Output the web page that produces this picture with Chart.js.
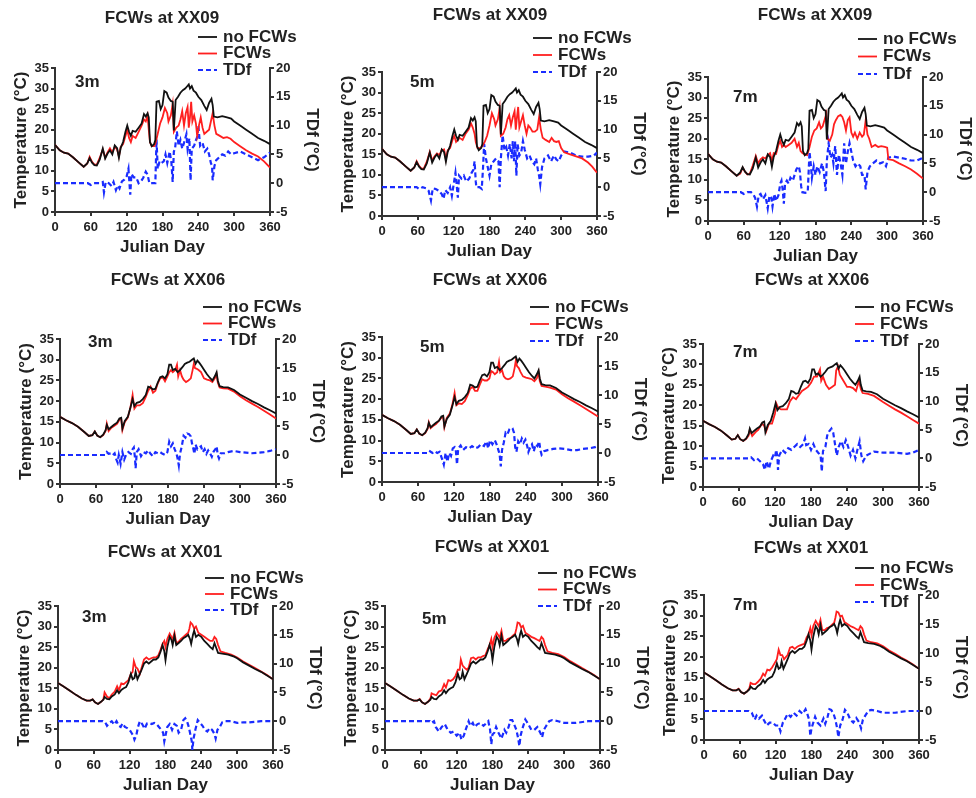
<!DOCTYPE html>
<html>
<head>
<meta charset="utf-8">
<script src="https://cdn.jsdelivr.net/npm/chart.js@4.4.1/dist/chart.umd.min.js"></script>
<style>
  html, body { margin: 0; padding: 0; background: #fff; overflow: hidden; }
  body { width: 976px; height: 798px; position: relative; }
  canvas { position: absolute; }
</style>
</head>
<body>
<script>
// Julian day / value pairs
const noFcwXX09 = [[0,16.3],[8,15],[15,14.4],[22,14.2],[30,13.3],[40,12],[48,11],[54,11.8],[58,13.1],[62,12],[66,11.4],[70,11.3],[75,12.8],[80,15.4],[84,13],[88,14.2],[92,15],[96,14],[100,16.2],[104,15.5],[107,13.2],[110,15.6],[114,17],[118,19.5],[121,21],[124,19.5],[127,18.5],[130,19.7],[135,19.5],[140,20.5],[145,21.5],[149,23.8],[152,23.2],[155,24],[157,23],[159,17],[162,16],[166,16.5],[168,17.5],[170,26.8],[174,27],[177,25],[180,26],[183,29.4],[187,29],[190,27.8],[194,27],[197,26.8],[199,19.8],[202,27.2],[206,28],[210,29],[214,29.6],[218,30],[221,30.5],[224,31],[226,30],[229,30.6],[232,29.5],[236,29],[240,28],[245,27.2],[250,25.8],[254,24.8],[258,26.5],[262,27.5],[264,26],[266,23.2],[272,23],[280,23.3],[288,23],[295,22.7],[300,22],[310,21],[320,20],[330,19],[340,18],[350,17.3],[360,16.5]];
const fcwXX09_3m = [[0,16.3],[8,15],[15,14.4],[22,14.2],[30,13.3],[40,12],[48,11],[54,11.8],[58,13.4],[62,12.2],[66,11.5],[70,11.5],[75,13.2],[80,15.2],[84,13.2],[88,14.5],[92,15.5],[96,14.5],[100,15.8],[104,15.2],[107,13.5],[110,15.8],[114,16.5],[118,18.5],[121,20],[124,18],[127,17],[130,18.5],[135,18],[140,19.5],[145,21],[149,22.5],[152,22],[155,23.5],[157,20],[159,17],[162,16],[166,16],[168,16.5],[172,19],[176,21.5],[180,23],[184,25.3],[188,24],[190,22],[194,23.5],[197,26.2],[199,19.5],[203,20.5],[207,21],[210,22.5],[213,24.5],[216,21],[219,24],[222,25.5],[224,20.5],[226,23],[228,26.8],[230,22],[233,23.5],[236,21.5],[238,18.5],[241,21],[244,23],[247,20.5],[250,19],[254,19.5],[258,20],[261,22],[264,24],[267,21],[270,19],[276,18.5],[282,18],[288,18.2],[294,17.8],[300,17],[310,16],[320,15],[330,14.2],[340,13.5],[350,12.3],[360,10.8]];
const tdfXX09_3m = [[0,0],[20,0],[40,0],[55,0],[60,-0.3],[65,0],[75,0],[80,0.2],[82,-1.6],[85,0.2],[90,0],[95,-0.5],[98,0.2],[102,-1.2],[105,-0.4],[108,-0.9],[112,0.3],[116,0.6],[120,1.2],[123,2.5],[125,-0.5],[126,-2],[128,1.6],[132,1],[136,1],[140,0],[144,0.3],[148,1],[152,2],[155,1.5],[158,0],[162,0],[166,0],[168,0],[170,7.6],[172,2.5],[175,3.8],[178,3.5],[182,3.8],[185,5],[188,3.5],[192,5.5],[195,3.5],[197,0.2],[199,5.5],[201,6],[204,9],[207,6.5],[210,7.5],[213,6],[216,7],[220,8.5],[222,6],[225,7.8],[227,0.5],[229,6],[233,6.5],[236,7.5],[238,8],[240,10],[243,6.5],[247,7],[251,5.5],[255,6],[258,5],[261,3.5],[263,3],[264,0.5],[267,3],[270,4],[275,4.5],[280,5],[285,4.8],[290,5.5],[295,5],[300,5.2],[310,5.5],[320,5],[330,4.5],[340,4],[350,4.5],[360,5.3]];
const fcwXX09_5m = [[0,16.3],[8,15],[15,14.4],[22,14.2],[30,13.3],[40,12],[48,11],[54,11.8],[58,13.3],[62,12.2],[66,11.5],[70,11.5],[75,13.2],[80,15.6],[84,13.5],[88,14.5],[92,15.2],[96,14.8],[100,16],[104,16.2],[107,13.8],[110,16],[114,16.5],[118,18.5],[121,19.5],[124,18],[127,18.5],[130,19],[135,18.5],[140,20],[145,21],[149,22.5],[152,21.5],[155,20],[157,18],[160,16.5],[164,16.5],[168,17],[172,18],[176,19.5],[180,22],[184,25],[188,23.5],[190,22],[194,23.5],[197,26.2],[199,19.5],[203,20],[207,21.5],[210,23.5],[213,24.5],[216,22],[219,24],[222,25.5],[224,21],[226,24],[228,26.5],[230,21.5],[233,23],[236,24.5],[239,22],[242,20],[245,22],[248,21.5],[252,20.5],[256,20.5],[260,21],[263,24],[266,21],[269,19],[274,18.5],[280,18],[284,19],[288,18.2],[292,18],[296,18.2],[300,16.5],[305,15.5],[315,15],[325,14.5],[335,14],[345,13],[352,12],[360,10.5]];
const tdfXX09_5m = [[0,0],[20,0],[40,0],[58,0],[62,-0.3],[68,0],[74,-0.2],[78,-0.6],[82,-2.3],[85,-0.2],[90,-0.3],[95,-0.6],[100,-1.2],[103,-2],[106,-0.5],[110,-1],[114,0],[117,-1.5],[120,0.5],[123,2.5],[125,0.5],[127,-1.8],[129,2],[133,1.5],[137,2],[141,1],[146,1.5],[150,2.5],[153,3],[155,4.5],[157,1],[158,0],[163,0],[167,-0.3],[169,3],[171,7.5],[174,5],[177,3.5],[180,2],[183,4],[187,4.5],[191,5],[195,4.5],[197,0],[199,5],[202,9],[205,6.5],[208,7],[211,5.5],[214,7.5],[217,5],[219,8],[221,4.5],[223,8],[225,2],[227,7.5],[230,5.5],[233,6],[236,8],[239,6.5],[243,5],[247,5.5],[251,4.5],[255,4],[258,5],[261,3],[263,2],[265,0.5],[268,3.5],[272,5],[278,5.5],[283,4.5],[288,5.5],[292,4.8],[296,4.5],[300,5.5],[305,6.2],[315,6],[325,5.5],[335,5.3],[345,5.3],[355,5.5],[360,6]];
const fcwXX09_7m = [[0,16.3],[8,15],[15,14.4],[22,14.2],[30,13.3],[40,12],[48,11],[54,11.5],[58,13],[62,12],[66,11.3],[70,11.5],[75,13.5],[80,15.8],[84,14],[88,15],[92,15.5],[96,15.2],[100,16],[104,16.5],[107,14.5],[110,16.5],[114,16.3],[118,18.5],[121,19.5],[124,18],[127,18.5],[130,18],[135,18.5],[140,19],[145,20],[149,18],[152,19],[155,17],[158,16.5],[162,16.2],[166,16],[170,18],[174,20.5],[178,22],[182,22.5],[186,24],[189,22.5],[192,23],[195,24.5],[198,26],[200,20],[204,19.5],[208,21],[211,23.5],[214,24.5],[218,25.5],[222,25.8],[225,25.3],[228,24],[231,22],[234,24.5],[237,25.2],[240,21.5],[243,20.5],[246,21.5],[250,20],[254,21.5],[258,20.5],[261,21],[264,24.5],[267,21],[270,20],[274,18],[280,18.5],[285,18],[290,18.2],[296,18],[300,17.8],[302,15],[310,14.8],[320,14],[330,13.3],[340,12.5],[350,11.5],[360,10.3]];
const tdfXX09_7m = [[0,0],[20,0],[40,0],[55,0],[60,-0.3],[66,0],[72,0],[76,-0.4],[79,-1],[82,-2.5],[85,-0.5],[88,-0.3],[92,-1.2],[96,-0.5],[100,-2.8],[103,-0.6],[106,-1],[108,-2.5],[111,-0.3],[114,-1.5],[118,-0.5],[121,1.5],[123,2],[125,0.5],[127,-2],[129,1.5],[132,2],[135,1.5],[138,2.5],[142,2],[145,3],[148,4],[152,4.5],[154,3.5],[156,1],[158,0],[163,-0.1],[167,0],[170,7],[172,5],[174,2.5],[177,4.5],[180,3],[183,4.5],[187,3.5],[191,5],[194,3.5],[197,0.2],[199,5.5],[202,8.5],[205,6],[208,6.5],[210,5],[213,8],[216,3],[219,6.5],[222,5],[225,3],[228,8.5],[231,5],[234,7],[237,8.5],[240,7],[243,5.5],[247,4.5],[251,5],[255,4.5],[258,3],[262,3],[264,0.5],[267,3.5],[271,4.5],[276,5],[282,5.5],[288,5],[293,5.2],[298,4.5],[302,6],[310,6.2],[320,6],[330,5.8],[340,5.5],[350,5.5],[360,6]];

const noFcwXX06 = [[0,16.2],[10,15.4],[20,14.7],[30,13.8],[40,12.6],[48,11.6],[54,11.8],[58,12.7],[62,11.7],[67,11.3],[72,11.9],[76,13],[78,14.3],[81,13.2],[85,13.7],[90,14.3],[95,14.8],[99,15.8],[102,16],[104,13.4],[108,15.2],[113,16.2],[117,18.2],[121,20.5],[124,18.8],[128,19.6],[133,19.8],[138,20.5],[143,21.5],[147,23.5],[151,23.3],[155,22.8],[159,23],[163,24.5],[167,25.8],[171,26],[175,25.5],[179,26.5],[182,28.8],[185,28.8],[188,27.5],[192,27.8],[196,27],[200,27.5],[204,28.2],[208,29],[212,29.3],[216,29.5],[220,30],[223,30.3],[226,29],[229,29.8],[232,29.3],[236,28.5],[240,27.6],[245,26.5],[250,25.6],[254,25],[258,26],[261,27],[263,25],[266,23.6],[272,23.4],[280,23.3],[290,22.7],[300,21.6],[310,20.8],[320,20],[330,19.3],[340,18.5],[350,17.8],[360,17]];
const fcwXX06_3m = [[0,16.2],[10,15.4],[20,14.7],[30,13.8],[40,12.6],[48,11.6],[54,11.8],[58,12.7],[62,11.7],[67,11.3],[72,11.8],[76,12.8],[78,14.6],[81,12.8],[85,13.5],[90,14],[95,14.5],[99,15.5],[102,15.7],[104,13],[108,15],[113,16],[117,18.2],[121,21.5],[124,18.2],[128,19],[133,19],[138,19.5],[143,21],[147,22.5],[151,23.5],[155,22],[159,22.5],[163,24.3],[167,25.5],[171,25.8],[175,24.8],[179,26],[182,27],[185,27.5],[188,27],[192,27.5],[195,28.8],[197,26],[200,27.5],[203,26],[206,25.2],[210,24.6],[214,25],[218,25.5],[221,27.5],[223,29],[225,28],[228,27.8],[231,27.5],[235,27],[240,25.5],[245,25.2],[250,25],[254,24.6],[258,25.5],[261,26.5],[263,24.5],[266,23.3],[272,23.1],[280,23],[290,22.3],[300,21.2],[310,20.2],[320,19.4],[330,18.6],[340,17.7],[350,16.8],[360,15.8]];
const tdfXX06_3m = [[0,0],[20,0],[40,0],[60,0],[75,0],[78,0.5],[81,0.2],[85,0.3],[88,0],[91,0.3],[94,-0.8],[96,-1.3],[98,0],[101,-1.5],[104,0.5],[107,-0.8],[110,0],[114,0.5],[118,0.2],[121,1],[123,1.3],[125,-0.5],[126,-2.3],[128,0.5],[131,1],[135,-0.2],[139,0.5],[143,0.3],[147,0.8],[151,0.2],[155,-0.2],[159,0.5],[163,0.3],[167,0.5],[171,0.2],[175,0],[179,0.5],[182,2.3],[185,1.5],[188,2],[191,1],[194,0.3],[196,-0.6],[198,-1.8],[200,0.2],[203,1.5],[206,3.3],[209,3],[212,3.7],[215,3.6],[218,3.2],[220,2],[222,1.2],[224,0.2],[226,1.8],[229,1],[232,1.3],[235,1.5],[238,0.5],[241,1],[244,0.2],[247,0.8],[250,0.3],[253,-0.3],[256,0.6],[259,1],[261,1.5],[263,0],[265,-0.6],[268,0.3],[274,0.3],[280,0.5],[290,0.7],[300,0.5],[310,0.4],[320,0.3],[330,0.4],[340,0.5],[350,0.7],[360,1]];
const fcwXX06_5m = [[0,16.2],[10,15.4],[20,14.7],[30,13.8],[40,12.6],[48,11.6],[54,11.8],[58,12.7],[62,11.7],[67,11.3],[72,11.8],[76,12.8],[78,14.4],[81,13],[85,13.5],[90,14],[95,14.8],[99,15.5],[102,15.8],[104,13.2],[108,15.5],[113,16.5],[117,18.5],[121,21.5],[124,18.5],[128,19],[133,18.8],[138,19.5],[143,21],[147,22.5],[151,23],[155,22],[159,22],[163,23.5],[167,24.8],[171,24.5],[175,24.5],[179,25],[182,26.8],[185,26.5],[188,26],[192,26.5],[195,29],[197,26.5],[200,27],[203,25.5],[206,25],[210,24.8],[214,25],[218,25.5],[221,27.5],[223,29.3],[225,28],[228,27.5],[231,26.5],[235,25.5],[240,25.2],[245,25],[250,24.8],[254,24.3],[258,25],[261,26.5],[263,24.3],[266,23.2],[272,23],[280,22.8],[290,22.3],[300,21.2],[310,20.2],[320,19.4],[330,18.5],[340,17.6],[350,16.7],[360,15.8]];
const tdfXX06_5m = [[0,0],[20,0],[40,0],[60,0],[78,0],[80,0.3],[84,0],[88,0.3],[92,0],[96,0.2],[100,-1],[103,-2],[106,0],[109,-1.5],[112,0],[115,-0.5],[118,0.8],[121,1],[123,0.5],[125,-2],[127,0.8],[131,1.3],[135,0.5],[140,1],[145,0.8],[150,1.2],[155,0.8],[160,1],[165,1.5],[170,1.2],[174,2],[177,0.8],[180,2.2],[184,1.5],[188,2.2],[191,1.5],[194,0.5],[196,-0.2],[198,-2.3],[200,0.5],[203,1.8],[206,3.5],[209,3.2],[212,4],[215,3.8],[218,4.1],[220,3.5],[222,1],[224,0.2],[227,2],[230,1.5],[233,2.5],[236,1.8],[239,2.3],[242,1.2],[244,0.2],[247,1],[250,1.5],[253,0.3],[256,1.5],[259,1.2],[262,2],[264,0.5],[266,-0.3],[270,0.3],[276,0.5],[285,0.7],[295,0.8],[305,0.7],[315,0.5],[325,0.5],[335,0.7],[345,0.8],[355,1],[360,1.2]];
const fcwXX06_7m = [[0,16.2],[10,15.4],[20,14.7],[30,13.8],[40,12.6],[48,11.6],[54,11.8],[58,12.7],[62,11.7],[67,11.3],[72,11.8],[76,12.6],[78,14],[82,12.5],[88,13.5],[92,14],[98,15.5],[102,15],[105,13.5],[110,15.5],[115,15.5],[120,18],[122,20.5],[125,19.5],[130,19],[135,19],[140,19],[145,21],[150,22],[155,21.5],[160,22.5],[165,23.5],[170,24],[175,24.5],[180,25.5],[185,27],[190,27],[195,28.8],[197,26],[200,27],[205,25],[210,24],[215,24.5],[220,25],[222,28.5],[225,29.5],[228,27.5],[232,26.5],[236,25.5],[240,24.5],[245,24.5],[250,24.2],[255,23.5],[260,26],[263,24],[266,23],[275,22.8],[285,22.3],[300,20.8],[310,19.9],[320,19],[330,18.2],[340,17.3],[350,16.4],[360,15.5]];
const tdfXX06_7m = [[0,0],[20,0],[40,0],[60,0],[75,0],[80,0.2],[85,-0.3],[90,0],[95,-0.5],[100,-1],[103,-2],[106,-0.5],[110,-1.8],[113,-0.5],[117,0.5],[120,0.2],[122,1.5],[124,0.3],[125,-2],[127,0.5],[132,1.5],[137,1],[142,1.8],[147,1.5],[152,2],[157,2.5],[162,2],[167,2.5],[170,3.5],[172,2.3],[176,2.5],[180,1.5],[184,2.5],[188,1.5],[192,1],[196,0.5],[198,-2.3],[200,1.3],[204,2],[207,4],[210,4.7],[214,5.2],[217,4.5],[220,2.5],[223,0.5],[226,2],[230,3],[234,2],[238,3.2],[242,2],[246,0.5],[250,1.5],[254,0],[258,1.8],[261,3],[264,0.5],[267,-0.5],[272,0.5],[285,1.2],[300,1],[320,1],[340,0.8],[350,1],[360,1.5]];

const noFcwXX01 = [[0,16.3],[10,15.4],[20,14.4],[30,13.4],[40,12.5],[48,12],[54,12],[58,12.3],[62,11.6],[67,11.2],[72,11.7],[76,12.2],[78,12.9],[82,12.4],[86,12.3],[90,13],[95,13.5],[99,14.5],[102,13.8],[106,14.6],[110,15],[114,15.3],[118,16.5],[122,18.5],[125,17.2],[128,17.5],[130,19],[133,17.2],[137,18.5],[140,19.5],[144,21],[148,21.5],[152,21],[156,21.5],[160,22],[164,22],[168,22.5],[172,24],[175,25.5],[178,24],[180,21.8],[183,25],[187,27.5],[190,26.8],[192,25.5],[195,27.8],[198,25.5],[202,26],[206,26.5],[210,27.2],[214,27.5],[218,28],[221,27],[223,25.8],[226,28],[228,29],[231,27.5],[235,28],[240,27.5],[245,26.5],[250,25.8],[255,25],[259,24.5],[262,26],[265,24.8],[268,23.6],[275,23.4],[285,23.2],[295,22.7],[300,22.3],[310,21.3],[320,20.5],[330,19.7],[340,19],[350,18.1],[360,17.2]];
const fcwXX01_3m = [[0,16.3],[10,15.4],[20,14.4],[30,13.4],[40,12.5],[48,12],[54,12],[58,12.3],[62,11.6],[67,11.2],[72,11.7],[76,12.3],[78,14],[82,13],[86,12.6],[90,13.5],[95,14.2],[99,15.5],[102,14.5],[106,16.2],[110,16],[114,16.5],[118,17],[122,18.5],[125,19],[127,21.6],[130,20.2],[133,19.8],[137,18.5],[140,20],[144,22],[148,22.5],[152,22],[156,22.3],[160,22.5],[164,22.5],[168,23],[172,24.5],[175,25.8],[178,26.5],[180,25],[183,27],[187,28.3],[190,27.5],[192,27],[195,28.5],[198,26],[202,26.3],[206,27],[210,27.5],[214,28],[218,28.5],[220,29.5],[222,31],[225,30.5],[228,29.5],[231,30],[235,28.5],[240,28],[245,27.5],[250,27],[255,26.5],[259,26.5],[262,27.5],[265,27],[268,25.5],[272,24],[280,23.6],[290,23.2],[300,22.5],[310,21.5],[320,20.7],[330,19.9],[340,19.1],[350,18.2],[360,17.2]];
const tdfXX01_3m = [[0,0],[20,0],[40,0],[60,0],[75,0],[79,-0.2],[82,-0.8],[86,-0.3],[90,0],[94,-0.6],[98,0],[102,-0.8],[105,-1],[108,-0.4],[112,-1],[116,-1.2],[120,-1.5],[123,-2],[126,-2.5],[128,-3.2],[131,-2.5],[134,-1],[137,0],[141,-0.5],[145,-1.3],[149,-0.4],[153,-0.3],[157,-0.5],[161,-0.3],[165,-0.5],[169,-1],[173,-1.5],[176,-2],[178,-3.5],[180,-2.5],[183,-1],[187,-0.5],[191,-1.5],[195,-0.5],[199,-0.8],[202,-2],[206,-1.5],[210,0.2],[213,0.5],[216,0],[219,-1],[222,-2.5],[224,-3.5],[225,-5],[227,-3],[230,-1.5],[234,0.2],[238,-0.3],[242,-0.8],[246,-1.5],[250,-1.8],[254,-1.2],[258,-1.5],[262,-2.2],[264,-3],[267,-1.5],[271,-1],[275,-0.2],[280,0],[290,0],[300,-0.3],[310,-0.2],[320,-0.2],[330,-0.1],[340,0],[350,0],[360,0]];
const fcwXX01_5m = [[0,16.3],[10,15.4],[20,14.4],[30,13.4],[40,12.5],[48,12],[54,12],[58,12.4],[62,11.6],[67,11.2],[72,11.7],[76,12.5],[78,13.8],[82,13.5],[86,13.3],[90,14.2],[95,14.5],[99,16],[102,15.2],[106,17],[110,16.8],[114,17.2],[118,18],[122,19.5],[125,19.5],[127,22],[130,20.5],[133,20],[137,19.5],[140,20],[144,22.3],[148,22.5],[152,22],[156,22.5],[160,22.5],[164,22.8],[168,23],[172,24.5],[175,25.5],[178,27],[180,25],[183,27.2],[187,28.5],[190,27.8],[192,27.3],[195,29],[198,26.5],[202,26.5],[206,27],[210,27.2],[214,27.8],[218,28.3],[220,29.5],[222,31],[225,30.8],[228,29.8],[231,30.2],[235,28.5],[240,28],[245,27.5],[250,27.2],[255,26.8],[259,26.5],[262,27.5],[265,27],[268,25.5],[272,24],[280,23.6],[290,23.3],[300,22.6],[310,21.6],[320,20.8],[330,19.9],[340,19.1],[350,18.2],[360,17.2]];
const tdfXX01_5m = [[0,0],[20,0],[40,0],[60,0],[75,0],[78,-0.3],[82,0],[85,-1],[90,-1.8],[95,-1],[100,-0.5],[105,-1.5],[110,-2],[115,-1.8],[120,-2.5],[125,-2],[128,-3.2],[132,-2.5],[135,-1.5],[140,0],[143,-0.8],[147,-0.3],[150,-1],[155,-0.5],[160,-0.3],[165,-0.8],[170,-0.3],[173,0],[176,-1.5],[178,-4],[180,-2.3],[183,-2],[186,-1],[190,-2],[195,-3],[200,-1.5],[203,-2],[207,-1],[210,0.2],[213,0.2],[216,-0.5],[220,-1.5],[223,-3],[225,-4.3],[227,-2.5],[230,-1.3],[235,0.3],[240,-0.5],[245,-1.5],[250,-1.5],[255,-1],[260,-2],[263,-2.8],[266,-1.5],[270,-0.8],[275,0],[280,0.2],[290,0],[300,-0.3],[320,-0.3],[340,0],[360,0]];
const fcwXX01_7m = [[0,16.3],[10,15.4],[20,14.4],[30,13.4],[40,12.5],[48,12],[54,12],[58,12.4],[62,11.6],[67,11.2],[72,11.7],[76,12.5],[78,13.8],[82,13.5],[86,13.5],[90,14],[95,14.8],[99,16],[102,15.5],[106,17],[110,16.8],[114,17.5],[118,18.5],[122,19.5],[125,21.8],[128,20.5],[131,20.5],[134,19.5],[137,20],[140,20.5],[144,22.3],[148,22.5],[152,22],[156,22.5],[160,22.8],[164,23],[168,23.2],[172,24.8],[175,25.5],[178,27],[180,25.3],[183,27.5],[187,28.8],[190,28],[192,27.5],[195,29],[198,26.5],[202,26.5],[206,27],[210,27.2],[214,27.8],[218,28.3],[220,29.5],[222,31],[225,30.8],[228,29.8],[231,30],[235,28.5],[240,28],[245,27.5],[250,27.2],[255,26.8],[259,26.5],[262,27.5],[265,27],[268,25.5],[272,24],[280,23.6],[290,23.3],[300,22.6],[310,21.6],[320,20.8],[330,19.9],[340,19.1],[350,18.2],[360,17.2]];
const tdfXX01_7m = [[0,0],[20,0],[40,0],[60,0],[75,0],[80,-0.3],[85,-1.5],[88,-0.8],[92,-1.3],[97,-0.8],[100,-1.5],[105,-2.5],[110,-2],[115,-2],[120,-2.5],[125,-2.5],[128,-3.5],[132,-2],[135,-1.5],[140,-0.5],[145,-1],[150,-0.3],[155,-0.8],[160,0],[165,-0.5],[170,0.3],[173,-0.5],[176,-1.5],[178,-4.3],[180,-3],[183,-2],[186,-1],[190,-2],[195,-2.5],[200,-1.3],[203,-2.2],[207,-1],[210,0.3],[213,0.2],[217,-0.5],[220,-1.5],[223,-3],[225,-4.5],[228,-2.5],[232,-1.5],[236,0.2],[240,-0.3],[245,-1.5],[250,-2],[255,-1.2],[260,-2],[263,-3],[266,-1.5],[270,-0.8],[275,0],[280,0.2],[290,0],[300,-0.3],[320,-0.3],[340,0],[360,0]];

const dayTicks = [0, 60, 120, 180, 240, 300, 360];
const legendLabels = ['no FCWs', 'FCWs', 'TDf'];

// panel layout: plot area [left, top, right, bottom] in page pixels
const panels = [
    { title: 'FCWs at XX09', depth: '3m', area: [55, 68, 270, 212], titleAt: [162, 18], legendAt: [198, 37], gap: 16.5, depthAt: [75, 82], black: noFcwXX09, red: fcwXX09_3m, blue: tdfXX09_3m },
    { title: 'FCWs at XX09', depth: '5m', area: [382, 72, 597, 216], titleAt: [490, 15], legendAt: [533, 38], gap: 17, depthAt: [410, 82], black: noFcwXX09, red: fcwXX09_5m, blue: tdfXX09_5m },
    { title: 'FCWs at XX09', depth: '7m', area: [708, 77, 923, 221], titleAt: [815, 15], legendAt: [858, 39], gap: 17.5, depthAt: [733, 97], black: noFcwXX09, red: fcwXX09_7m, blue: tdfXX09_7m },
    { title: 'FCWs at XX06', depth: '3m', area: [60, 339, 276, 484], titleAt: [168, 280], legendAt: [203, 307], gap: 16.5, depthAt: [88, 342], black: noFcwXX06, red: fcwXX06_3m, blue: tdfXX06_3m },
    { title: 'FCWs at XX06', depth: '5m', area: [382, 337, 598, 482], titleAt: [490, 280], legendAt: [530, 307], gap: 17, depthAt: [420, 347], black: noFcwXX06, red: fcwXX06_5m, blue: tdfXX06_5m },
    { title: 'FCWs at XX06', depth: '7m', area: [703, 344, 919, 487], titleAt: [812, 280], legendAt: [855, 307], gap: 17, depthAt: [733, 352], black: noFcwXX06, red: fcwXX06_7m, blue: tdfXX06_7m },
    { title: 'FCWs at XX01', depth: '3m', area: [58, 606, 273, 750], titleAt: [165, 552], legendAt: [205, 578], gap: 16, depthAt: [82, 617], black: noFcwXX01, red: fcwXX01_3m, blue: tdfXX01_3m },
    { title: 'FCWs at XX01', depth: '5m', area: [385, 606, 600, 750], titleAt: [492, 547], legendAt: [538, 573], gap: 16.5, depthAt: [422, 619], black: noFcwXX01, red: fcwXX01_5m, blue: tdfXX01_5m },
    { title: 'FCWs at XX01', depth: '7m', area: [704, 595, 919, 740], titleAt: [811, 548], legendAt: [855, 568], gap: 17, depthAt: [733, 605], black: noFcwXX01, red: fcwXX01_7m, blue: tdfXX01_7m }
];

const FONT = '"Liberation Sans", Arial, sans-serif';
const INK = '#222';
const AXIS = '#333';
const PAD_L = 48, PAD_R = 56, PAD_T = 80, PAD_B = 50;

// title, depth label and the stacked legend, drawn in page coordinates
const panelDecor = {
    id: 'panelDecor',
    afterDraw(chart, args, opts) {
        const ctx = chart.ctx;
        ctx.save();
        ctx.fillStyle = INK;
        ctx.font = 'bold 17px ' + FONT;
        ctx.textBaseline = 'middle';
        ctx.textAlign = 'center';
        ctx.fillText(opts.title, opts.titleAt[0] - opts.ox, opts.titleAt[1] - opts.oy);
        ctx.textAlign = 'left';
        ctx.fillText(opts.depth, opts.depthAt[0] - opts.ox, opts.depthAt[1] - opts.oy);
        chart.data.datasets.forEach((ds, i) => {
            const x = opts.legendAt[0] - opts.ox;
            const y = opts.legendAt[1] - opts.oy + i * opts.gap;
            ctx.strokeStyle = ds.borderColor;
            ctx.lineWidth = ds.borderWidth;
            ctx.setLineDash(ds.borderDash || []);
            ctx.beginPath();
            ctx.moveTo(x, y);
            ctx.lineTo(x + 19, y);
            ctx.stroke();
            ctx.setLineDash([]);
            ctx.fillText(ds.label, x + 25, y);
        });
        ctx.restore();
    }
};

function axisCommon() {
    return {
        border: { display: true, color: AXIS, width: 2 },
        grid: { drawOnChartArea: false, drawTicks: true, tickLength: 4, color: AXIS, lineWidth: 2 },
    };
}

function toPoints(pairs) {
    return pairs.map(p => ({ x: p[0], y: p[1] }));
}

panels.forEach(p => {
    const [L, T, R, B] = p.area;
    const ox = L - PAD_L, oy = T - PAD_T;
    const canvas = document.createElement('canvas');
    canvas.width = PAD_L + (R - L) + PAD_R;
    canvas.height = PAD_T + (B - T) + PAD_B;
    canvas.style.left = ox + 'px';
    canvas.style.top = oy + 'px';
    canvas.style.width = canvas.width + 'px';
    canvas.style.height = canvas.height + 'px';
    document.body.appendChild(canvas);

    new Chart(canvas, {
        type: 'line',
        data: {
            datasets: [
                { label: legendLabels[0], data: toPoints(p.black), borderColor: '#111111', borderWidth: 1.8, pointRadius: 0, yAxisID: 'y' },
                { label: legendLabels[1], data: toPoints(p.red), borderColor: '#ff1f1f', borderWidth: 1.8, pointRadius: 0, yAxisID: 'y' },
                { label: legendLabels[2], data: toPoints(p.blue), borderColor: '#1a2cff', borderWidth: 2.2, borderDash: [5, 3], pointRadius: 0, yAxisID: 'y2' }
            ]
        },
        options: {
            responsive: false,
            animation: false,
            devicePixelRatio: 1,
            layout: { padding: { top: PAD_T, left: 0, right: 0, bottom: 0 } },
            plugins: {
                legend: { display: false },
                tooltip: { enabled: false },
                panelDecor: { ox, oy, title: p.title, depth: p.depth, titleAt: p.titleAt, depthAt: p.depthAt, legendAt: p.legendAt, gap: p.gap }
            },
            scales: {
                x: {
                    type: 'linear', min: 0, max: 360,
                    ...axisCommon(),
                    afterBuildTicks: s => { s.ticks = dayTicks.map(v => ({ value: v })); },
                    afterFit: s => { s.height = PAD_B; },
                    ticks: { color: INK, font: { family: FONT, size: 13, weight: 'bold' }, padding: 4, maxRotation: 0 },
                    title: { display: true, text: 'Julian Day', color: INK, font: { family: FONT, size: 17, weight: 'bold' } }
                },
                y: {
                    position: 'left', min: 0, max: 35,
                    ...axisCommon(),
                    afterFit: s => { s.width = PAD_L; },
                    ticks: { stepSize: 5, color: INK, font: { family: FONT, size: 13, weight: 'bold' }, padding: 2 },
                    title: { display: true, text: 'Temperature (°C)', color: INK, font: { family: FONT, size: 17, weight: 'bold' } }
                },
                y2: {
                    position: 'right', min: -5, max: 20,
                    ...axisCommon(),
                    afterFit: s => { s.width = PAD_R; },
                    ticks: { stepSize: 5, color: INK, font: { family: FONT, size: 13, weight: 'bold' }, padding: 2 },
                    title: { display: true, text: 'TDf (°C)', color: INK, font: { family: FONT, size: 17, weight: 'bold' } }
                }
            }
        },
        plugins: [panelDecor]
    });
});
</script>
</body>
</html>
